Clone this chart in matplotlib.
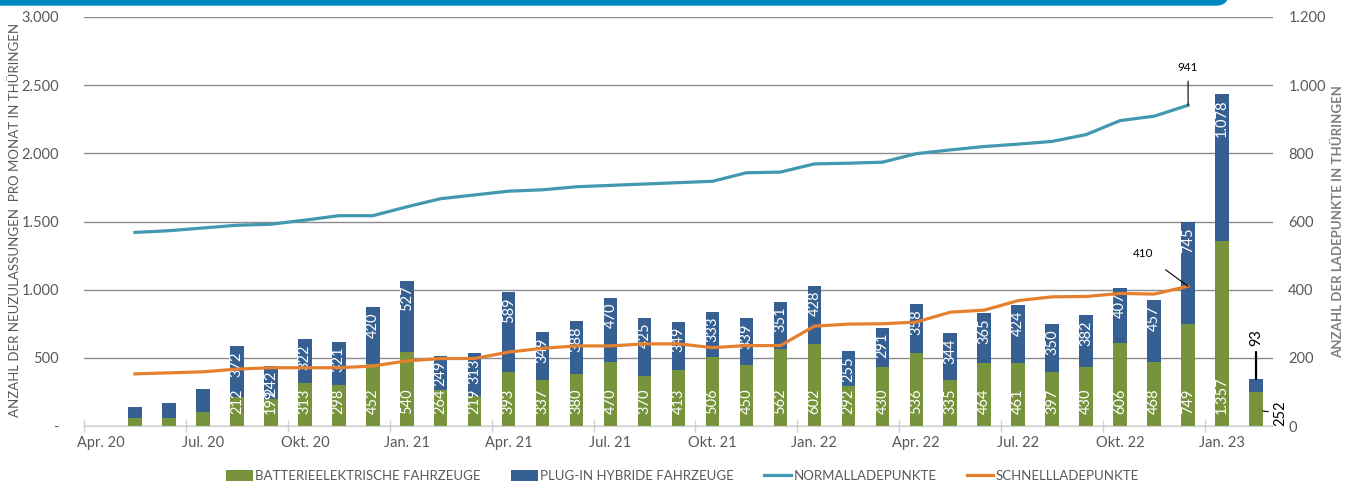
import numpy as np
import matplotlib
matplotlib.use("Agg")
import matplotlib.pyplot as plt
from matplotlib.patches import FancyBboxPatch
from matplotlib.transforms import IdentityTransform

plt.rcParams['font.family'] = ['Lato', 'DejaVu Sans']

# Monate: Apr. 20 (leer) bis Feb. 23
tick_labels = ["Apr. 20", "Jul. 20", "Okt. 20", "Jan. 21", "Apr. 21", "Jul. 21",
               "Okt. 21", "Jan. 22", "Apr. 22", "Jul. 22", "Okt. 22", "Jan. 23"]

# Neuzulassungen Mai 20 - Feb. 23
bev = [57, 60, 100, 212, 199, 313, 298, 452, 540, 264, 219, 393, 337, 380, 470, 370, 413,
       506, 450, 562, 602, 292, 430, 536, 335, 464, 461, 397, 430, 606, 468, 749, 1357, 252]
phev = [83, 108, 171, 372, 242, 322, 321, 420, 527, 249, 313, 589, 349, 388, 470, 425, 349,
        333, 339, 351, 428, 255, 291, 358, 344, 365, 424, 350, 382, 407, 457, 745, 1078, 93]

# Ladepunkte Mai 20 - Dez. 22
normal = [568, 573, 581, 589, 592, 604, 617, 617, 643, 667, 678, 689, 693, 702, 706, 710,
          714, 718, 743, 745, 769, 771, 774, 799, 810, 820, 827, 835, 855, 896, 909, 941]
schnell = [153, 156, 159, 167, 171, 171, 171, 176, 191, 198, 198, 217, 228, 235, 235, 241,
           241, 230, 236, 236, 293, 299, 300, 305, 334, 340, 368, 379, 380, 389, 387, 410]

green = '#77933C'
blue = '#376092'
teal = '#4198AF'
orange = '#E5802F'
grey = '#595959'


def fmt(v):
    return f"{v:,}".replace(",", ".")


fig = plt.figure(figsize=(13.57, 4.84), dpi=100)
ax = fig.add_axes([0.0619, 0.1198, 0.8762, 0.8451])
ax2 = ax.twinx()

x_bar = np.arange(1, len(bev) + 1)
x_line = np.arange(1, len(normal) + 1)

ax.bar(x_bar, bev, width=0.4, color=green, label='BATTERIEELEKTRISCHE FAHRZEUGE', zorder=2)
ax.bar(x_bar, phev, width=0.4, bottom=bev, color=blue, label='PLUG-IN HYBRIDE FAHRZEUGE', zorder=2)

# Datenbeschriftungen in den Balken
for i in range(3, len(bev) - 1):
    ax.annotate(fmt(bev[i]), (x_bar[i], 0), xytext=(0, 12), textcoords='offset pixels',
                rotation=90, ha='center', va='bottom', color='white', fontsize=10.5, zorder=5)
    ax.annotate(fmt(phev[i]), (x_bar[i], bev[i] + phev[i]), xytext=(0, -5), textcoords='offset pixels',
                rotation=90, ha='center', va='top', color='white', fontsize=10.5, zorder=5)

# Letzter Monat: Beschriftung außerhalb
last = len(bev) - 1
ax.annotate(fmt(phev[last]), (x_bar[last], bev[last] + phev[last]), xytext=(0, 41),
            textcoords='offset pixels', rotation=90, ha='center', va='center', fontsize=10.5,
            color='black', arrowprops=dict(arrowstyle='-', color='black', lw=1.6, shrinkA=2, shrinkB=0))
ax.annotate(fmt(bev[last]), (x_bar[last] + 0.2, 110), xytext=(18, -2),
            textcoords='offset pixels', rotation=90, ha='center', va='center', fontsize=10.5,
            color='black', arrowprops=dict(arrowstyle='-', color='black', lw=0.8, shrinkA=2, shrinkB=0))

ax2.plot(x_line, normal, color=teal, lw=2.3, label='NORMALLADEPUNKTE', zorder=3)
ax2.plot(x_line, schnell, color=orange, lw=2.3, label='SCHNELLLADEPUNKTE', zorder=3)

ax2.annotate(str(normal[-1]), (x_line[-1], normal[-1]), xytext=(0, 38), textcoords='offset pixels',
             ha='center', va='center', fontsize=8.5, color='black',
             arrowprops=dict(arrowstyle='-', color='black', lw=0.8, shrinkA=4, shrinkB=0))
ax2.annotate(str(schnell[-1]), (x_line[-1], schnell[-1]), xytext=(-45, 33), textcoords='offset pixels',
             ha='center', va='center', fontsize=8.5, color='black',
             arrowprops=dict(arrowstyle='-', color='black', lw=0.8, shrinkA=10, shrinkB=0))

# Achsen
ax.set_xlim(-0.5, 34.5)
ax.set_ylim(0, 3000)
ax2.set_ylim(0, 1200)

ax.set_yticks(np.arange(0, 3001, 500))
ax.set_yticklabels(['-'] + [fmt(v) for v in range(500, 3001, 500)])
ax2.set_yticks(np.arange(0, 1201, 200))
ax2.set_yticklabels([fmt(v) for v in range(0, 1201, 200)])

ax.set_xticks(np.arange(-0.5, 33, 3))
ax.set_xticklabels([])
ax.set_xticks(np.arange(0, 34, 3), minor=True)
ax.set_xticklabels(tick_labels, minor=True)
ax.tick_params(axis='x', which='major', length=8, direction='inout', color='#d0d0d0', width=1)
ax.tick_params(axis='x', which='minor', length=0, pad=7, labelsize=10.5, labelcolor=grey)
ax.tick_params(axis='y', length=0, labelsize=10.5, labelcolor=grey, pad=18)
ax2.tick_params(axis='y', length=0, labelsize=10.5, labelcolor=grey, pad=11)

ax.grid(axis='y', color='#8c8c8c', lw=1, zorder=0)
ax.set_axisbelow(True)
for a in (ax, ax2):
    for s in ['top', 'left', 'right']:
        a.spines[s].set_visible(False)
    a.spines['bottom'].set_color('#d0d0d0')

fig.text(0.011, 0.545, 'ANZAHL DER NEUZULASSUNGEN  PRO MONAT IN THÜRINGEN', rotation=90,
         ha='center', va='center', fontsize=9.5, color=grey)
fig.text(0.986, 0.543, 'ANZAHL DER LADEPUNKTE IN THÜRINGEN', rotation=90,
         ha='center', va='center', fontsize=9.5, color='#7f7f7f', fontweight='bold')

h1, l1 = ax.get_legend_handles_labels()
h2, l2 = ax2.get_legend_handles_labels()
fig.legend(h1 + h2, l1 + l2, loc='center', bbox_to_anchor=(0.503, 0.017), ncol=4, frameon=False,
           fontsize=9.5, labelcolor=grey, handlelength=2.0, handleheight=0.9,
           handletextpad=0.2, columnspacing=2.3)

# blauer Balken oben
banner = FancyBboxPatch((-30, 479), 1258, 40, boxstyle='round,pad=0,rounding_size=12',
                        transform=IdentityTransform(), color='#0087C1', zorder=10)
fig.patches.append(banner)

fig.savefig('out.png', dpi=100)
